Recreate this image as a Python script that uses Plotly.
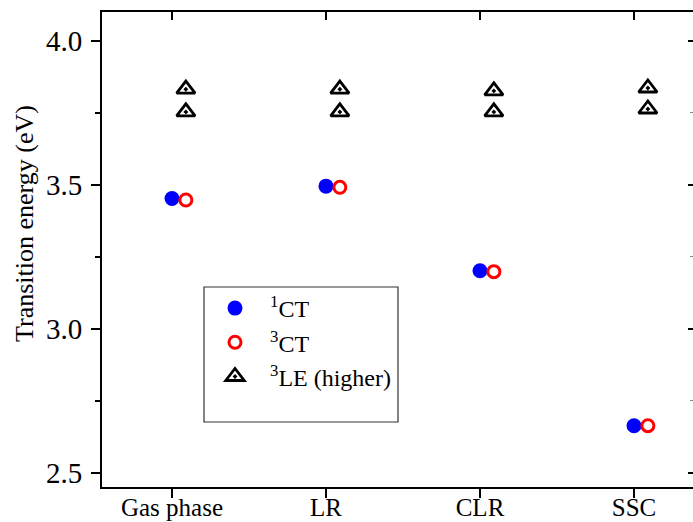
import plotly.graph_objects as go

# Categories and transition energies (eV)
categories = ["Gas phase", "LR", "CLR", "SSC"]
ct_singlet = [3.452, 3.495, 3.201, 2.663]
ct_triplet = [3.447, 3.491, 3.198, 2.663]
le_triplet_a = [3.832, 3.832, 3.826, 3.836]
le_triplet_b = [3.753, 3.753, 3.753, 3.763]

y_ticks = [2.5, 3.0, 3.5, 4.0]
y_tick_text = ["2.5", "3.0", "3.5", "4.0"]

pos = list(range(len(categories)))
shift = 0.09  # small horizontal offset for triplet states
pos_shift = [p + shift for p in pos]

FONT = "Liberation Serif, Times New Roman, serif"
X_RANGE = [-0.4545, 3.383]
Y_RANGE = [2.45, 4.1]

fig = go.Figure()

fig.add_trace(go.Scatter(
    x=pos, y=ct_singlet, mode="markers", name="<sup>1</sup>CT",
    legendgroup="a",
    marker=dict(symbol="circle", size=15, color="#0000ff", line=dict(width=0)),
))
fig.add_trace(go.Scatter(
    x=pos_shift, y=ct_triplet, mode="markers", name="<sup>3</sup>CT",
    legendgroup="b",
    marker=dict(symbol="circle-open", size=12, color="#ff0000", line=dict(width=3, color="#ff0000")),
))
fig.add_trace(go.Scatter(
    x=pos_shift + pos_shift, y=le_triplet_a + le_triplet_b, mode="markers",
    name="<sup>3</sup>LE (higher)", legendgroup="c",
    marker=dict(symbol="triangle-up-open-dot", size=16, color="black", line=dict(width=2.8, color="black")),
))
# carrier trace for the mirrored top/right tick axes
fig.add_trace(go.Scatter(x=[None], y=[None], xaxis="x2", yaxis="y2",
                         showlegend=False, hoverinfo="skip"))

fig.update_layout(
    width=693, height=522,
    margin=dict(l=102, r=0, t=12, b=35, autoexpand=False),
    paper_bgcolor="white", plot_bgcolor="white",
    font=dict(family=FONT, color="black"),
    showlegend=True,
    legend=dict(
        x=(200 - 102) / 591, y=(487 - 286) / 475, xanchor="left", yanchor="top",
        bgcolor="rgba(0,0,0,0)", borderwidth=0,
        font=dict(family=FONT, size=24, color="black"),
        itemwidth=60, traceorder="normal", tracegroupgap=0,
    ),
    xaxis=dict(
        range=X_RANGE, tickmode="array", tickvals=pos, ticktext=categories,
        automargin=False, ticklabelstandoff=-12,
        showgrid=False, zeroline=False, showline=True, linecolor="black",
        linewidth=1.8, mirror=True, ticks="outside", ticklen=9, tickwidth=1.8,
        tickcolor="black", tickfont=dict(family=FONT, size=25, color="black"),
    ),
    yaxis=dict(
        range=Y_RANGE, tickmode="array", tickvals=y_ticks, ticktext=y_tick_text,
        automargin=False, ticklabelstandoff=3,
        showgrid=False, zeroline=False, showline=True, linecolor="black",
        linewidth=1.8, ticks="outside", ticklen=9, tickwidth=1.8, tickcolor="black",
        tickfont=dict(family=FONT, size=29, color="black"),
        minor=dict(tickmode="array", tickvals=[2.75, 3.25, 3.75], ticks="outside",
                   ticklen=5, tickwidth=1.8, tickcolor="black"),
    ),
    xaxis2=dict(
        range=X_RANGE, overlaying="x", side="top", anchor="y", automargin=False,
        tickmode="array", tickvals=pos, showticklabels=False,
        showgrid=False, zeroline=False, showline=False,
        ticks="inside", ticklen=8, tickwidth=1.8, tickcolor="black",
    ),
    yaxis2=dict(
        range=Y_RANGE, overlaying="y", side="right", anchor="x", automargin=False,
        tickmode="array", tickvals=y_ticks, showticklabels=False,
        showgrid=False, zeroline=False, showline=False,
        ticks="inside", ticklen=5, tickwidth=1.8, tickcolor="black",
        minor=dict(tickmode="array", tickvals=[2.75, 3.25, 3.75], ticks="inside",
                   ticklen=3, tickwidth=1.2, tickcolor="#888888"),
    ),
    shapes=[dict(type="rect", xref="paper", yref="paper",
                 x0=(204 - 102) / 591, x1=(398 - 102) / 591,
                 y0=(487 - 422) / 475, y1=(487 - 287) / 475,
                 line=dict(color="#333333", width=1.2), fillcolor="rgba(0,0,0,0)")],
    annotations=[dict(
        text="Transition energy (eV)", xref="paper", yref="paper",
        x=-(102 - 24) / 591, y=(487 - 224) / 475, xanchor="center", yanchor="middle",
        textangle=-90, showarrow=False, font=dict(family=FONT, size=26, color="black"),
    )],
)

fig.write_html("out.html")
